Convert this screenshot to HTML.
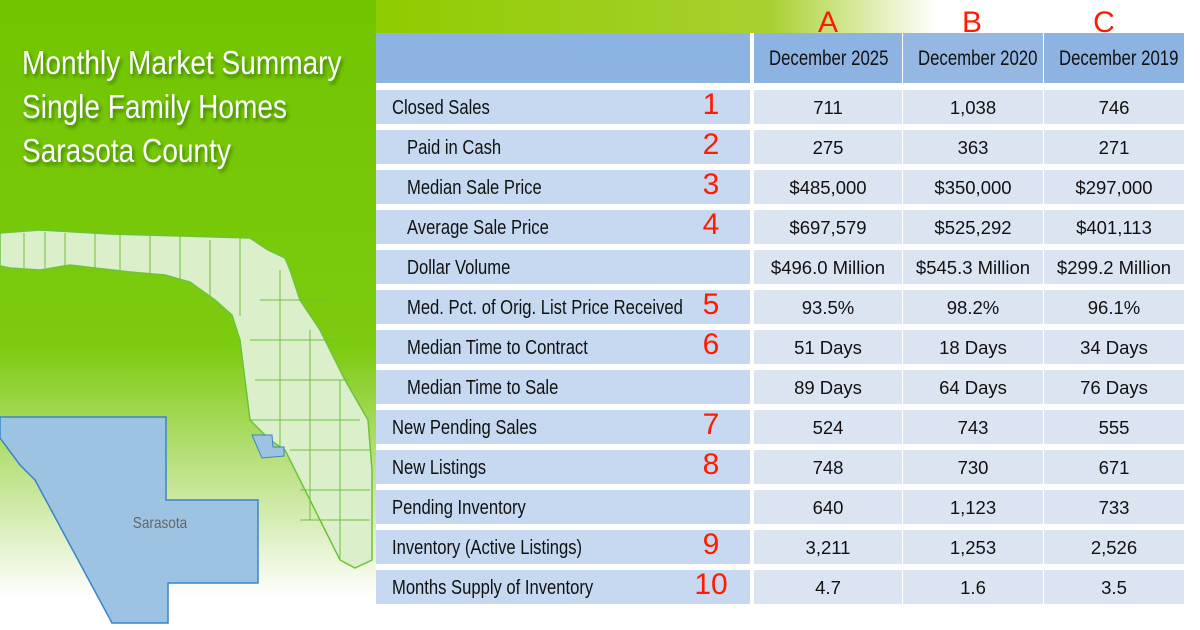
<!DOCTYPE html>
<html><head><meta charset="utf-8">
<style>
body{margin:0;width:1200px;height:630px;overflow:hidden;position:relative;background:#fff;font-family:"Liberation Sans",sans-serif}
#bg{position:absolute;left:0;top:0;width:1200px;height:630px}
.title{position:absolute;left:22px;color:#fff;font-family:"Liberation Sans",sans-serif;font-size:33px;text-shadow:2px 3px 4px rgba(0,60,0,.5);white-space:nowrap;transform:scaleX(.85);transform-origin:left}
.cell{position:absolute;height:34px;line-height:36px;box-sizing:border-box;white-space:nowrap}
.lab{left:376px;width:374px;background:#c6d9f0;font-size:20px;color:#111}
.lab span{display:inline-block;transform:scaleX(.83);transform-origin:left}
.val{background:#dbe5f1;text-align:center;font-size:18.5px;color:#111}
.num{position:absolute;color:#ff1a00;font-size:30px;text-align:center;width:40px}
.hdr{position:absolute;top:33px;height:50px;background:#8db3e2;font-size:21px;text-align:center;line-height:52px;color:#111;white-space:nowrap;overflow:visible}
.hdr span{display:inline-block;transform:scaleX(.8);white-space:nowrap}
</style></head><body>
<svg id="bg" viewBox="0 0 1200 630">
<defs>
<linearGradient id="g1" x1="0" y1="0" x2="0" y2="1">
<stop offset="0" stop-color="#72c400"/><stop offset=".55" stop-color="#7ccb10"/><stop offset=".78" stop-color="#c8e69a"/><stop offset=".95" stop-color="#fff"/></linearGradient>
<linearGradient id="g2" x1="0" y1="0" x2="1" y2="0">
<stop offset="0" stop-color="#8fcc00"/><stop offset=".7" stop-color="#a8d030"/><stop offset="1" stop-color="#fff"/></linearGradient>
</defs>
<rect x="0" y="0" width="376" height="630" fill="url(#g1)"/>
<rect x="376" y="0" width="560" height="33" fill="url(#g2)"/>
<path d="M0 233 L40 230 L110 234 L180 236 L250 238 L268 250 L285 258 L290 270 L300 300 L320 330 L345 380 L368 420 L372 470 L372 560 L355 568 L340 560 L320 520 L300 480 L285 450 L270 440 L250 420 L245 380 L240 340 L232 315 L215 300 L190 282 L165 275 L130 272 L95 268 L70 265 L40 270 L10 268 L0 266 Z" fill="#dcefcb" stroke="#6cc33a" stroke-width="1.5"/>
<g stroke="#6cc33a" stroke-width="1" fill="none">
<path d="M24 233V268M45 232V268M65 233V266M95 234V268M120 234V272M150 236V274M180 236V282M210 240V296M240 238V316M260 300H330M250 340H340M255 380H350M250 420H360M290 450H370M300 490H370M300 520H370M280 270V450M310 330V520M340 380V560"/>
</g>
<path d="M252 435 L272 435 L273 447 L284 447 L284 456 L262 458 Z" fill="#9dc3e3" stroke="#3a85c5" stroke-width="1"/>
<path d="M0 417 L166 417 L166 500 L258 500 L258 583 L168 583 L168 623 L112 623 L70 545 L35 480 L20 465 L0 438 Z" fill="#9dc3e3" stroke="#3a85c5" stroke-width="1.5"/>
<text x="160" y="528" font-family="Liberation Sans, sans-serif" font-size="16" fill="#666" text-anchor="middle" transform="translate(160 0) scale(.85 1) translate(-160 0)">Sarasota</text>
</svg>
<div class="title" style="top:44px">Monthly Market Summary</div>
<div class="title" style="top:88px">Single Family Homes</div>
<div class="title" style="top:132px">Sarasota County</div>

<div class="hdr" style="left:376px;width:374px"></div>
<div class="hdr" style="left:754px;width:148px"><span>December 2025</span></div>
<div class="hdr" style="left:903px;width:140px;background:#95b8e2"><span>December 2020</span></div>
<div class="hdr" style="left:1044px;width:140px"><span>December 2019</span></div>
<div class="num" style="left:808px;top:6px">A</div>
<div class="num" style="left:952px;top:6px">B</div>
<div class="num" style="left:1084px;top:6px">C</div>

<div id="tbl"></div>
<script>
const labels=["Closed Sales","Paid in Cash","Median Sale Price","Average Sale Price","Dollar Volume","Med. Pct. of Orig. List Price Received","Median Time to Contract","Median Time to Sale","New Pending Sales","New Listings","Pending Inventory","Inventory (Active Listings)","Months Supply of Inventory"];
const indent=[0,1,1,1,1,1,1,1,0,0,0,0,0];
const marks=["1","2","3","4","","5","6","","7","8","","9","10"];
const colA=["711","275","$485,000","$697,579","$496.0 Million","93.5%","51 Days","89 Days","524","748","640","3,211","4.7"];
const colB=["1,038","363","$350,000","$525,292","$545.3 Million","98.2%","18 Days","64 Days","743","730","1,123","1,253","1.6"];
const colC=["746","271","$297,000","$401,113","$299.2 Million","96.1%","34 Days","76 Days","555","671","733","2,526","3.5"];
const t=document.getElementById('tbl');
const cols=[[754,148,colA],[903,140,colB],[1044,140,colC]];
labels.forEach((l,i)=>{
 const y=90+i*40;
 const d=document.createElement('div');d.className='cell lab';d.style.top=y+'px';
 d.style.paddingLeft=(indent[i]?31:16)+'px';
 const s=document.createElement('span');s.textContent=l;d.appendChild(s);
 
 
 t.appendChild(d);
 if(marks[i]){const m=document.createElement('div');m.className='num';
  m.style.left='691px';m.style.top=(y-2)+'px';m.style.width='40px';m.textContent=marks[i];
  
  
  t.appendChild(m);}
 cols.forEach(c=>{const v=document.createElement('div');v.className='cell val';
  v.style.left=c[0]+'px';v.style.width=c[1]+'px';v.style.top=y+'px';v.textContent=c[2][i];
  
  
  t.appendChild(v);});
});
</script>
</body></html>
